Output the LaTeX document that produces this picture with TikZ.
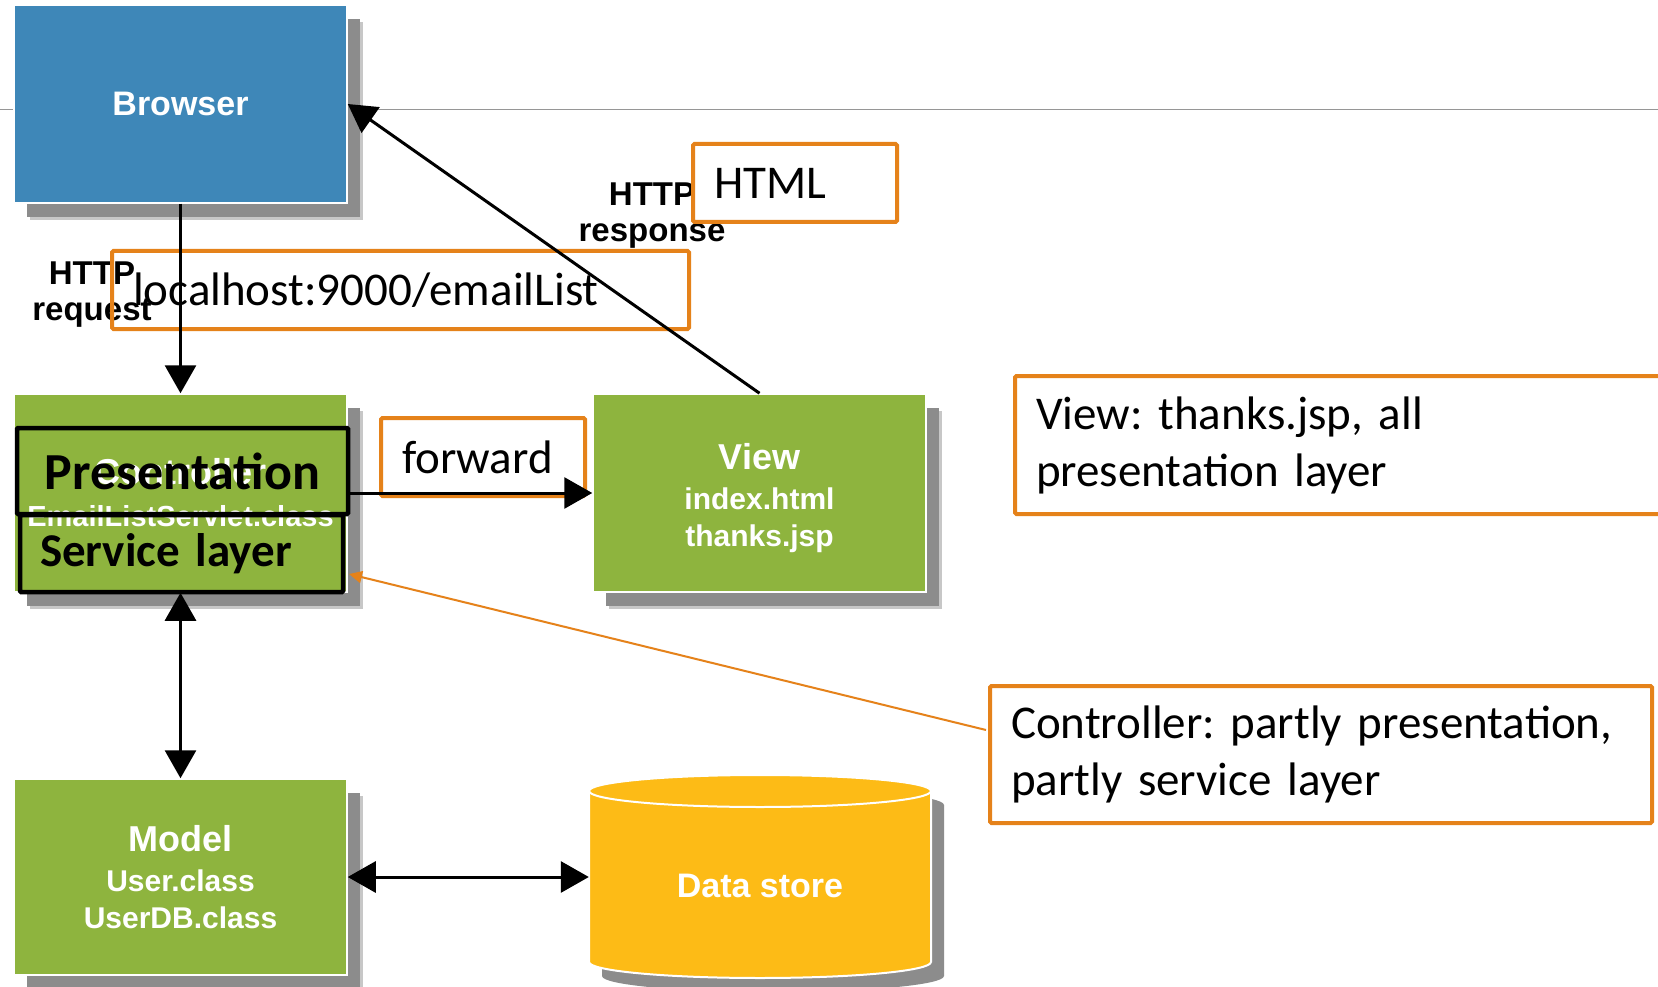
\documentclass[tikz,border=0pt]{standalone}
\usepackage{fontspec}
\setmainfont{Liberation Sans}
\newfontfamily\calfont[WordSpace=0.8]{Carlito}
\usetikzlibrary{arrows.meta,shadows}
\definecolor{bblue}{RGB}{62,135,184}
\definecolor{bgreen}{RGB}{142,180,62}
\definecolor{byellow}{RGB}{253,187,22}
\definecolor{borange}{RGB}{229,130,26}
\definecolor{bshadow}{RGB}{140,140,140}
\definecolor{bline}{RGB}{150,150,150}
\frenchspacing
\tikzset{
  shad/.style={general shadow={fill=black!22, shadow xshift=16pt, shadow yshift=-17pt},
               general shadow={fill=bshadow, shadow xshift=13pt, shadow yshift=-14pt}},
  mvcbox/.style={shad, draw=white, line width=1.5pt, minimum width=333pt, minimum height=198pt,
     inner sep=0pt, text=white, align=center, font=\bfseries\fontsize{30}{37}\selectfont},
  wtext/.style={text=white, align=center, inner sep=0pt, font=\bfseries\fontsize{30}{37}\selectfont},
  arr/.style={line width=3pt, -{Triangle[length=28pt,width=31pt]}},
  darr/.style={line width=3pt, {Triangle[length=28pt,width=31pt]}-{Triangle[length=28pt,width=31pt]}},
  obox/.style={draw=borange, line width=4pt, rounded corners=1.5pt, inner sep=0pt, inner xsep=21pt, align=left,
     font=\calfont\frenchspacing\fontsize{47}{57}\selectfont},
  kbox/.style={draw=black, line width=4.5pt, rounded corners=1pt, inner sep=0pt, font=\calfont\bfseries\fontsize{52}{60}\selectfont},
  lbl/.style={font=\bfseries\fontsize{33}{36}\selectfont, align=center, inner sep=0pt},
  leader/.style={draw=borange, line width=2pt, -{Triangle[length=13pt,width=12pt]}},
}
\begin{document}
\begin{tikzpicture}[x=1pt,y=-1pt]
\useasboundingbox (0,0) rectangle (1658,987);
\fill[white] (0,0) rectangle (1658,987);
\draw[bline, line width=1pt] (0,110) -- (1658,110);

% main boxes
\node[mvcbox, fill=bblue, font=\bfseries\fontsize{34}{40}\selectfont] (browser) at (180.5,104) {Browser};
\node[mvcbox, fill=bgreen] (ctrl) at (180.5,493)
  {{\fontsize{36}{42}\selectfont Controller}\\[5pt]{\fontsize{29}{37}\selectfont EmailListServlet.class}};
\node[mvcbox, fill=bgreen] (view) at (759.5,493) {};
\node[wtext] (viewtext) at ([yshift=-5pt]view.center)
  {{\fontsize{36}{42}\selectfont View}\\[3pt]index.html\\thanks.jsp};
\node[mvcbox, fill=bgreen, minimum height=196pt] (model) at (180.5,877)
  {{\fontsize{36}{42}\selectfont Model}\\[3pt]User.class\\UserDB.class};

% data store cylinder
\begin{scope}[shift={(13,14)}]
  \fill[bshadow] (589,791) -- (589,962) arc[start angle=180,end angle=0,x radius=171,y radius=16]
    -- (931,791) arc[start angle=0,end angle=-180,x radius=171,y radius=16] -- cycle;
\end{scope}
\filldraw[fill=byellow, draw=white, line width=2pt] (589,791) -- (589,962)
    arc[start angle=180,end angle=0,x radius=171,y radius=16]
    -- (931,791) arc[start angle=0,end angle=-180,x radius=171,y radius=16] -- cycle;
\draw[white, line width=2pt] (589,791) arc[start angle=180,end angle=0,x radius=171,y radius=16];
\node[text=white, font=\bfseries\fontsize{34}{40}\selectfont, minimum width=342pt, minimum height=180pt, inner sep=0pt]
  (db) at (760,886) {Data store};

% layer boxes over the controller
\node[kbox, minimum width=331pt, minimum height=86pt] (pres) at (182.5,471) {Presentation};
\node[kbox, minimum width=323pt, minimum height=77pt, inner xsep=20pt, text width=283pt, align=left,
  font=\calfont\bfseries\fontsize{47}{54}\selectfont] (svc) at (181.5,553.5) {Service layer};

% labels
\node[lbl] (req) at (92,295) {HTTP\\request};
\node[lbl] (resp) at (652,216) {HTTP\\response};

% orange boxes
\node[obox, minimum height=78pt, text width=535pt] (url) at (400.5,290) {localhost:9000/emailList};
\node[obox, minimum height=78pt, text width=162pt] (html) at (795,183) {HTML};
\node[obox, minimum height=78pt, text width=162pt] (fwd) at (483,457) {forward};
\node[obox, minimum height=138pt, text width=608pt] (vnote) at (1340,445)
  {View: thanks.jsp, all\\presentation layer};
\node[obox, minimum height=137pt, text width=620pt] (cnote) at (1321,754.5)
  {Controller: partly presentation,\\partly service layer};

% connectors
\draw[arr] (browser.south) -- (ctrl.north);
\draw[arr] (view.north) -- (browser.east);
\draw[arr] (ctrl.east) -- (view.west);
\draw[darr] (ctrl.south) -- (model.north);
\draw[darr] (model.east) -- (model.east -| db.west);
\coordinate (ls) at (986,730);
\coordinate (le) at (349,574);
\draw[leader] (ls) -- (le);
\end{tikzpicture}
\end{document}
